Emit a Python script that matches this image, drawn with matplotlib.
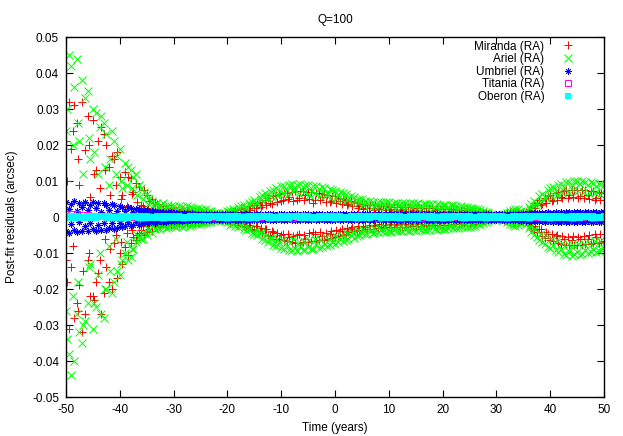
import numpy as np
import matplotlib
matplotlib.use("Agg")
import matplotlib.pyplot as plt

plt.rcParams['font.family'] = ['Liberation Sans', 'DejaVu Sans']
plt.rcParams['font.size'] = 8.5
plt.rcParams['axes.unicode_minus'] = False

# sampling times (years)
t_half = np.arange(-50, 50.01, 0.5)      # outer samples
t_mid = np.arange(-49.75, 50, 1.0)       # inner samples
t_year = np.arange(-50, 50.01, 1.0)      # Titania

# residuals in milli-arcsec (hi = positive side, lo = negative side)
miranda_hi = [
    21, 32, 19, 31, 26, 9, 32, 18.6, 28, 5.6,
    27, 13, 21, 25, 23, 20, 14, 17, 16, 18,
    11, 6, 12.6, 11, 10.7, 7, 9.4, 8.4, 3.3, 7.5,
    6, 4.5, 5, 3.8, 3.5, 2.2, 3.0, 2.6, 1.8, 2.4,
    2.2, 2.0, 1.4, 2.1, 1.8, 1.9, 1.2, 1.7, 1.6, 1.5,
    1.4, 1.0, 1.3, 1.1, 0.8, 0.7, 0.5, 0.4, 0.6, 0.8,
    1.2, 0.9, 1.6, 1.9, 1.5, 2.3, 2.6, 1.8, 3.0, 3.3,
    2.4, 3.8, 4.2, 3.2, 4.8, 5.2, 4.0, 5.8, 6.1, 6.3,
    4.4, 6.6, 6.8, 5.5, 7.0, 7.1, 4.6, 7.2, 7.1, 6.0,
    7.0, 6.9, 3.8, 6.8, 6.6, 5.6, 6.4, 6.2, 4.2, 5.9,
    5.7, 5.4, 4.4, 5.1, 4.8, 3.6, 4.4, 4.1, 3.9, 3.0,
    3.6, 3.4, 2.6, 3.3, 3.2, 3.2, 2.4, 3.1, 3.0, 3.0,
    2.9, 2.2, 2.9, 2.8, 2.8, 2.1, 2.8, 2.7, 2.7, 2.0,
    2.6, 2.6, 2.5, 1.8, 2.5, 2.4, 2.4, 1.9, 2.3, 2.3,
    2.2, 2.2, 1.6, 2.1, 2.1, 2.0, 1.5, 2.0, 1.9, 1.9,
    1.8, 1.4, 1.7, 1.5, 1.3, 1.0, 1.0, 0.7, 0.5, 0.4,
    0.3, 0.4, 0.5, 0.7, 1.0, 1.3, 1.5, 1.4, 1.2, 1.0,
    0.9, 1.3, 2.0, 2.8, 3.2, 4.0, 4.6, 3.6, 5.4, 5.8,
    6.2, 4.8, 6.6, 7.0, 5.6, 7.2, 7.4, 6.0, 7.5, 7.6,
    7.6, 5.8, 7.5, 7.4, 6.2, 7.3, 7.2, 5.4, 7.0, 6.8,
    6.6]
miranda_lo = [
    12, 31, 14, 28, 24, 19, 32, 27, 12, 22,
    22, 18, 15.6, 27, 21, 14, 18, 20, 7.3, 17,
    10, 13, 8.2, 10.5, 7.3, 5.5, 6.5, 4.5, 3.6, 5.0,
    4.2, 3.2, 4.0, 2.6, 2.9, 2.4, 2.0, 2.5, 1.8, 2.1,
    2.0, 1.5, 1.9, 1.8, 1.2, 1.7, 1.6, 1.3, 1.5, 1.3,
    1.2, 1.2, 0.9, 1.0, 0.8, 0.6, 0.5, 0.4, 0.6, 0.9,
    1.1, 1.4, 1.1, 1.8, 2.1, 1.6, 2.5, 2.8, 2.2, 3.2,
    3.5, 2.6, 4.0, 4.4, 3.4, 5.0, 5.4, 4.2, 6.0, 6.2,
    5.0, 6.5, 6.8, 5.6, 7.0, 7.1, 5.0, 7.2, 7.0, 6.0,
    6.9, 6.8, 4.3, 6.7, 6.5, 5.2, 6.3, 6.0, 4.6, 5.8,
    5.6, 5.2, 4.0, 5.0, 4.6, 4.3, 3.4, 4.0, 3.8, 3.6,
    3.5, 2.8, 3.3, 3.2, 3.2, 2.5, 3.1, 3.0, 2.9, 2.3,
    2.9, 2.9, 2.8, 2.2, 2.8, 2.7, 2.7, 2.0, 2.6, 2.6,
    2.5, 2.5, 1.9, 2.4, 2.4, 2.3, 1.8, 2.3, 2.2, 2.2,
    2.1, 1.6, 2.1, 2.0, 2.0, 1.5, 1.9, 1.9, 1.8, 1.6,
    1.7, 1.5, 1.5, 1.2, 1.1, 0.9, 0.8, 0.6, 0.5, 0.3,
    0.4, 0.3, 0.5, 0.8, 1.1, 1.4, 1.6, 1.5, 1.3, 1.1,
    1.0, 1.4, 2.3, 3.0, 3.6, 4.3, 3.4, 5.2, 5.8, 4.6,
    6.4, 6.8, 5.4, 7.2, 7.4, 6.2, 7.7, 7.8, 6.4, 7.9,
    7.8, 6.0, 7.7, 7.6, 6.2, 7.5, 7.3, 5.6, 7.1, 6.9,
    6.8]
miranda_mid_hi = [
    10, 24, 16, 4, 20, 12, 8, 13, 6, 9,
    5, 3, 6.5, 4.2, 3, 2.5, 2.2, 1.8, 1.2, 1.5,
    1.2, 1.4, 0.9, 1.0, 0.8, 0.6, 0.5, 0.3, 0.4, 0.6,
    0.8, 1.1, 1.4, 1.6, 2.0, 2.4, 2.8, 3.4, 3.6, 4.2,
    4.6, 5.0, 4.4, 5.2, 4.8, 5.0, 4.6, 4.8, 4.2, 4.4,
    3.8, 3.6, 3.2, 3.0, 2.6, 2.2, 2.4, 2.0, 2.2, 1.9,
    2.0, 1.8, 2.0, 1.7, 1.8, 1.6, 1.7, 1.5, 1.6, 1.4,
    1.5, 1.4, 1.3, 1.2, 1.2, 1.1, 0.9, 0.8, 0.6, 0.4,
    0.3, 0.4, 0.8, 1.0, 0.9, 0.7, 1.6, 2.4, 3.2, 3.8,
    4.4, 4.8, 5.2, 5.4, 5.6, 5.4, 5.2, 5.0, 4.8, 4.6]
miranda_mid_lo = [
    18, 8, 26, 15, 10, 23, 12, 6, 9, 5,
    7, 4.4, 3.6, 5, 2.6, 2.0, 1.8, 2.2, 1.5, 1.3,
    1.4, 1.1, 1.2, 0.9, 0.8, 0.7, 0.4, 0.3, 0.5, 0.7,
    0.9, 1.2, 1.6, 1.8, 2.2, 2.6, 3.0, 3.2, 3.8, 4.4,
    4.8, 4.6, 5.2, 4.8, 5.0, 4.4, 4.6, 4.2, 4.4, 4.0,
    3.6, 3.4, 3.0, 2.8, 2.6, 2.4, 2.1, 2.3, 2.0, 2.1,
    1.9, 2.0, 1.7, 1.9, 1.6, 1.8, 1.5, 1.7, 1.5, 1.6,
    1.4, 1.5, 1.3, 1.2, 1.1, 1.2, 1.0, 0.8, 0.5, 0.3,
    0.4, 0.5, 0.7, 1.1, 1.0, 0.8, 1.8, 2.6, 3.4, 4.2,
    4.6, 5.0, 5.4, 5.6, 5.4, 5.6, 5.2, 5.0, 4.8, 4.6]

ariel_hi = [
    24, 45, 42, 36, 44, 21, 38, 33, 35, 16,
    30, 29, 12, 28, 26, 23, 9, 24, 21, 17,
    19, 8, 15, 14, 13, 11, 12, 9, 8, 7,
    6.5, 5, 4.5, 3.5, 4, 3.2, 3.8, 2.6, 3.4, 3,
    3, 2.4, 3.1, 2.8, 2.2, 3, 2.7, 2.5, 2.2, 2.6,
    2.3, 1.9, 2.1, 1.7, 1.6, 1.2, 1.0, 0.7, 0.8, 1.1,
    1.6, 2.0, 2.3, 1.8, 2.7, 3.0, 3.3, 2.6, 4.0, 4.3,
    4.8, 3.8, 5.6, 6.0, 6.6, 5.2, 7.3, 7.6, 8.1, 6.5,
    8.6, 8.7, 7.4, 8.9, 9.1, 7.8, 9.0, 9.1, 8.2, 9.0,
    8.8, 7.2, 8.7, 8.5, 7.9, 8.3, 8.1, 6.8, 7.9, 7.6,
    7.3, 6.2, 7.0, 6.6, 6.3, 5.4, 5.8, 5.6, 4.6, 5.1,
    4.9, 4.5, 4.1, 4.4, 4.3, 3.4, 4.2, 4.1, 3.9, 4.2,
    4.1, 3.3, 4.0, 4.0, 3.6, 3.9, 4.0, 3.2, 3.9, 3.8,
    3.7, 3.8, 3.0, 3.6, 3.7, 3.5, 3.6, 2.8, 3.5, 3.4,
    3.4, 3.3, 2.7, 3.2, 3.2, 3.1, 2.6, 3.0, 2.9, 2.7,
    2.6, 2.5, 2.3, 2.1, 1.9, 1.6, 1.4, 1.0, 0.7, 0.5,
    0.4, 0.5, 0.6, 0.8, 1.2, 1.7, 2.0, 2.2, 2.1, 1.8,
    1.2, 1.6, 2.7, 3.6, 4.5, 3.9, 5.8, 6.4, 5.6, 7.4,
    8.0, 8.3, 7.2, 8.9, 9.3, 8.4, 9.6, 9.8, 8.9, 10.0,
    10.1, 9.3, 9.9, 9.8, 8.8, 9.7, 9.5, 8.6, 9.3, 9.2,
    9.0]
ariel_lo = [
    26, 38, 44, 40, 27, 32, 35, 29, 24, 13,
    31, 25, 16, 27, 28, 20, 8, 21, 18, 15,
    16, 12, 10, 12, 11, 9, 7, 5.5, 6, 4.5,
    5, 3.6, 4.5, 3.4, 3.0, 3.2, 2.6, 3.0, 2.8, 2.4,
    2.6, 2.8, 2.2, 2.7, 2.5, 2.0, 2.4, 2.2, 1.8, 2.0,
    1.9, 1.7, 1.8, 1.4, 1.3, 1.0, 0.8, 0.6, 0.9, 1.2,
    1.5, 2.1, 1.9, 2.5, 2.8, 2.4, 3.4, 3.7, 3.2, 4.4,
    4.6, 5.1, 4.2, 6.1, 6.4, 7.0, 5.8, 7.7, 8.0, 7.0,
    8.5, 8.8, 8.0, 9.2, 9.3, 8.6, 9.4, 8.1, 9.3, 9.1,
    8.3, 9.0, 8.8, 7.6, 8.6, 8.4, 7.4, 8.0, 7.7, 7.0,
    7.4, 7.0, 6.0, 6.8, 6.4, 6.0, 5.0, 5.7, 5.3, 5.0,
    4.4, 4.8, 4.6, 3.8, 4.4, 4.3, 4.2, 3.6, 4.2, 4.1,
    4.0, 4.1, 3.5, 4.0, 3.9, 4.0, 3.4, 3.9, 3.8, 3.7,
    3.8, 3.1, 3.7, 3.6, 3.5, 3.6, 2.9, 3.4, 3.5, 3.3,
    3.2, 3.3, 3.1, 2.6, 3.1, 3.0, 3.0, 2.6, 2.8, 2.8,
    2.7, 2.4, 2.4, 2.0, 2.0, 1.7, 1.3, 1.1, 0.8, 0.6,
    0.5, 0.4, 0.7, 0.9, 1.4, 1.9, 2.3, 2.4, 2.2, 1.6,
    1.4, 1.9, 3.0, 4.2, 5.0, 5.6, 6.4, 7.0, 7.6, 8.2,
    8.6, 7.8, 9.3, 9.7, 8.8, 10.3, 10.6, 9.4, 10.8, 10.4,
    9.6, 10.5, 10.2, 9.2, 10.0, 9.8, 8.9, 9.6, 9.4, 9.0,
    8.7]
ariel_mid_hi = [
    30, 20, 26, 12, 22, 18, 25, 14, 16, 12,
    10, 9, 8, 6, 5, 3.5, 3, 2.8, 2.2, 2.0,
    2.0, 1.8, 2.0, 1.6, 1.5, 1.2, 1.0, 0.8, 0.6, 1.0,
    1.3, 1.8, 2.2, 2.6, 3.2, 3.8, 4.6, 5.2, 5.6, 6.2,
    6.6, 6.0, 7.2, 6.4, 7.0, 6.2, 6.6, 5.8, 6.0, 5.4,
    5.4, 4.8, 4.6, 4.0, 3.8, 3.2, 3.1, 2.9, 3.0, 2.7,
    2.9, 2.6, 2.8, 2.5, 2.7, 2.4, 2.6, 2.3, 2.5, 2.2,
    2.3, 2.1, 2.2, 1.9, 2.0, 1.7, 1.5, 1.2, 1.0, 0.6,
    0.4, 0.6, 1.2, 1.5, 1.3, 1.0, 2.2, 3.2, 4.2, 5.2,
    5.6, 6.2, 6.8, 7.0, 7.4, 7.2, 7.0, 6.8, 6.6, 6.4]
ariel_mid_lo = [
    34, 22, 18, 30, 14, 24, 10, 20, 15, 6,
    13, 7, 9, 5, 6, 3, 2.4, 2.2, 2.0, 1.6,
    1.8, 1.6, 1.5, 1.8, 1.2, 1.3, 0.9, 0.7, 0.7, 0.9,
    1.2, 1.6, 2.0, 2.6, 3.0, 3.6, 4.4, 5.0, 5.8, 6.0,
    6.4, 6.8, 6.2, 7.0, 6.6, 6.4, 6.0, 6.2, 5.6, 5.8,
    5.2, 5.0, 4.4, 4.2, 3.6, 3.4, 3.0, 3.1, 2.8, 2.9,
    2.7, 2.8, 2.6, 2.7, 2.5, 2.6, 2.4, 2.5, 2.3, 2.4,
    2.2, 2.2, 2.0, 2.1, 1.8, 1.8, 1.4, 1.3, 0.9, 0.5,
    0.5, 0.7, 1.0, 1.6, 1.4, 1.1, 2.4, 3.4, 4.6, 5.0,
    6.0, 6.4, 7.2, 7.4, 7.8, 7.6, 7.4, 7.0, 6.8, 6.6]

umbriel_hi = [
    4.3, 2.2, 3.6, 4.4, 1.6, 3.9, 2.8, 4.3, 1.9, 3.4,
    4.1, 2.5, 3.8, 1.5, 3.9, 3.2, 2.0, 3.6, 3.3, 1.6,
    3.1, 2.9, 1.7, 2.7, 2.5, 1.4, 2.3, 2.2, 1.5, 2.0,
    1.9, 1.3, 1.8, 1.7, 1.2, 1.5, 1.5, 1.1, 1.4, 1.3,
    1.0, 1.2, 1.2, 0.9, 1.1, 1.0, 0.8, 1.0, 0.9, 0.8,
    0.9, 0.8, 0.7, 0.9, 0.8, 0.7, 0.8, 0.7, 0.8, 0.7,
    0.8, 0.7, 0.8, 0.7, 0.6, 0.8, 0.7, 0.8, 0.7, 0.6,
    0.7, 0.8, 0.7, 0.6, 0.8, 0.7, 0.7, 0.8, 0.6, 0.7,
    0.8, 0.7, 0.6, 0.8, 0.7, 0.7, 0.8, 0.6, 0.7, 0.8,
    0.7, 0.6, 0.8, 0.7, 0.7, 0.8, 0.6, 0.7, 0.8, 0.7,
    0.6, 0.8, 0.7, 0.7, 0.8, 0.6, 0.7, 0.8, 0.7, 0.6,
    0.8, 0.7, 0.7, 0.8, 0.6, 0.7, 0.8, 0.7, 0.6, 0.8,
    0.7, 0.7, 0.8, 0.6, 0.7, 0.8, 0.7, 0.6, 0.8, 0.7,
    0.7, 0.8, 0.6, 0.7, 0.8, 0.7, 0.6, 0.8, 0.7, 0.7,
    0.8, 0.6, 0.7, 0.8, 0.7, 0.6, 0.8, 0.7, 0.7, 0.8,
    0.6, 0.7, 0.8, 0.7, 0.6, 0.8, 0.7, 0.7, 0.8, 0.6,
    0.7, 0.8, 0.7, 0.6, 0.8, 0.7, 0.8, 0.9, 0.8, 0.9,
    1.0, 0.9, 1.1, 1.0, 1.2, 1.1, 1.0, 1.2, 1.1, 1.3,
    1.2, 1.1, 1.3, 1.2, 1.4, 1.2, 1.3, 1.4, 1.2, 1.3,
    1.4, 1.3, 1.2, 1.4, 1.3, 1.2, 1.4, 1.3, 1.2, 1.3,
    1.3]
umbriel_lo = [
    3.8, 4.4, 2.0, 3.5, 4.2, 1.5, 3.9, 2.6, 4.0, 1.8,
    3.4, 4.0, 2.3, 3.6, 1.6, 3.5, 3.0, 1.8, 3.3, 3.0,
    1.7, 2.8, 2.6, 1.5, 2.4, 2.3, 1.3, 2.1, 2.0, 1.4,
    1.8, 1.7, 1.2, 1.6, 1.5, 1.1, 1.4, 1.3, 1.0, 1.2,
    1.1, 0.9, 1.1, 1.0, 0.8, 1.0, 0.9, 0.8, 0.9, 0.8,
    0.8, 0.7, 0.9, 0.8, 0.7, 0.8, 0.6, 0.8, 0.7, 0.7,
    0.7, 0.8, 0.6, 0.7, 0.8, 0.7, 0.6, 0.8, 0.7, 0.7,
    0.8, 0.6, 0.7, 0.8, 0.7, 0.6, 0.8, 0.7, 0.8, 0.6,
    0.7, 0.8, 0.7, 0.6, 0.8, 0.7, 0.7, 0.8, 0.6, 0.7,
    0.8, 0.7, 0.6, 0.8, 0.7, 0.6, 0.8, 0.7, 0.7, 0.8,
    0.7, 0.6, 0.8, 0.7, 0.6, 0.8, 0.7, 0.7, 0.6, 0.8,
    0.7, 0.8, 0.6, 0.7, 0.8, 0.7, 0.6, 0.8, 0.7, 0.7,
    0.6, 0.8, 0.7, 0.7, 0.8, 0.6, 0.7, 0.8, 0.7, 0.6,
    0.8, 0.7, 0.7, 0.6, 0.8, 0.7, 0.8, 0.6, 0.7, 0.8,
    0.7, 0.7, 0.8, 0.6, 0.7, 0.8, 0.7, 0.6, 0.8, 0.7,
    0.7, 0.8, 0.6, 0.7, 0.8, 0.7, 0.6, 0.8, 0.7, 0.7,
    0.8, 0.6, 0.7, 0.8, 0.7, 0.8, 0.9, 0.8, 0.9, 1.0,
    0.9, 1.1, 1.0, 1.2, 1.1, 1.0, 1.2, 1.1, 1.3, 1.2,
    1.1, 1.3, 1.2, 1.4, 1.3, 1.2, 1.4, 1.3, 1.2, 1.4,
    1.3, 1.2, 1.4, 1.3, 1.2, 1.4, 1.3, 1.2, 1.3, 1.4,
    1.2]

titania = [
    0.8, 0.7, 0.7, 0.6, 0.5, 0.4, 0.3, 0.2, -0.1, 0.2,
    -0.2, 0.1, -0.1, 0.2, -0.2, 0.1, -0.1, 0.2, -0.2, 0.1,
    -0.1, 0.2, -0.2, 0.1, -0.1, 0.2, -0.2, 0.1, -0.1, 0.2,
    -0.2, 0.1, -0.1, 0.2, -0.2, 0.1, -0.1, 0.2, -0.2, 0.1,
    -0.1, 0.2, -0.2, 0.1, -0.1, 0.2, -0.2, 0.1, -0.1, 0.2,
    -0.2, 0.1, -0.1, 0.2, -0.2, 0.1, -0.1, 0.2, -0.2, 0.1,
    -0.1, 0.2, -0.2, 0.1, -0.1, 0.2, -0.2, 0.1, -0.1, 0.2,
    -0.2, 0.1, -0.1, 0.2, -0.2, 0.1, -0.1, 0.2, -0.2, 0.1,
    -0.1, 0.2, -0.2, 0.1, -0.1, 0.2, -0.2, 0.1, -0.1, 0.2,
    -0.2, 0.1, -0.1, 0.2, -0.2, 0.1, -0.1, 0.2, -0.2, 0.1,
    -0.1]

oberon = [
    0.3, -0.3, 0.2, -0.2, 0.3, -0.3, 0.1, -0.3, 0.3, -0.2,
    0.2, -0.3, 0.3, -0.1, 0.2, -0.3, 0.3, -0.2, 0.1, -0.3,
    0.3, -0.2, 0.2, -0.3, 0.3, -0.1, 0.2, -0.3, 0.3, -0.2,
    0.2, -0.3, 0.1, -0.2, 0.3, -0.3, 0.2, -0.2, 0.3, -0.3,
    0.3, -0.2, 0.2, -0.3, 0.1, -0.3, 0.3, -0.2, 0.2, -0.3,
    0.2, -0.3, 0.3, -0.2, 0.2, -0.1, 0.3, -0.3, 0.2, -0.2,
    0.3, -0.3, 0.2, -0.2, 0.3, -0.3, 0.1, -0.3, 0.3, -0.2,
    0.2, -0.3, 0.3, -0.1, 0.2, -0.3, 0.3, -0.2, 0.1, -0.3,
    0.3, -0.2, 0.2, -0.3, 0.3, -0.1, 0.2, -0.3, 0.3, -0.2,
    0.2, -0.3, 0.1, -0.2, 0.3, -0.3, 0.2, -0.2, 0.3, -0.3,
    0.3, -0.2, 0.2, -0.3, 0.1, -0.3, 0.3, -0.2, 0.2, -0.3,
    0.2, -0.3, 0.3, -0.2, 0.2, -0.1, 0.3, -0.3, 0.2, -0.2,
    0.3, -0.3, 0.2, -0.2, 0.3, -0.3, 0.1, -0.3, 0.3, -0.2,
    0.2, -0.3, 0.3, -0.1, 0.2, -0.3, 0.3, -0.2, 0.1, -0.3,
    0.3, -0.2, 0.2, -0.3, 0.3, -0.1, 0.2, -0.3, 0.3, -0.2,
    0.2, -0.3, 0.1, -0.2, 0.3, -0.3, 0.2, -0.2, 0.3, -0.3,
    0.3, -0.2, 0.2, -0.3, 0.1, -0.3, 0.3, -0.2, 0.2, -0.3,
    0.2, -0.3, 0.3, -0.2, 0.2, -0.1, 0.3, -0.3, 0.2, -0.2,
    0.3, -0.3, 0.2, -0.2, 0.3, -0.3, 0.1, -0.3, 0.3, -0.2,
    0.2, -0.3, 0.3, -0.1, 0.2, -0.3, 0.3, -0.2, 0.1, -0.3,
    0.3]

labels = ['Miranda (RA)', 'Ariel (RA)', 'Umbriel (RA)', 'Titania (RA)', 'Oberon (RA)']
colors = ['#ff0000', '#00ff00', '#0000ff', '#ff00ff', '#00ffff']

mas = 1e-3

fig = plt.figure(figsize=(6.23, 4.36), dpi=100)
ax = fig.add_axes([66/623, 1-397/436, 538/623, 360/436])

def gather(parts):
    # parts: list of (times, values, sign)
    x = np.concatenate([p[0] for p in parts])
    y = np.concatenate([p[2] * np.array(p[1]) * mas for p in parts])
    return x, y

x, y = gather([(t_half, miranda_hi, 1), (t_half, miranda_lo, -1),
               (t_mid, miranda_mid_hi, 1), (t_mid, miranda_mid_lo, -1)])
ax.plot(x, y, ls='none', marker='+', ms=6, mew=0.7, color=colors[0], label=labels[0])
x, y = gather([(t_half, ariel_hi, 1), (t_half, ariel_lo, -1),
               (t_mid, ariel_mid_hi, 1), (t_mid, ariel_mid_lo, -1)])
ax.plot(x, y, ls='none', marker='x', ms=5.5, mew=0.7, color=colors[1], label=labels[1])
x, y = gather([(t_half, umbriel_hi, 1), (t_half, umbriel_lo, -1)])
ax.plot(x, y, ls='none', marker=(8, 2, 0), ms=4.5, mew=0.6, color=colors[2], label=labels[2])
ax.plot(t_year, np.array(titania) * mas, ls='none', marker='s', ms=4, mew=0.8,
        mfc='none', mec=colors[3], label=labels[3])
ax.plot(t_half, np.array(oberon) * mas, ls='none', marker='s', ms=4.2, mew=0,
        color=colors[4], label=labels[4])

ax.set_xlim(-50, 50)
ax.set_ylim(-0.05, 0.05)
ax.set_xticks(np.arange(-50, 51, 10))
ax.set_yticks(np.round(np.arange(-0.05, 0.051, 0.01), 2))
ax.yaxis.set_major_formatter(matplotlib.ticker.FuncFormatter(lambda v, p: '%g' % round(v, 2)))
ax.tick_params(direction='in', length=5, width=0.8, top=True, right=True, pad=5, labelsize=8.5)
for s in ax.spines.values():
    s.set_linewidth(1.0)

ax.set_title('Q=100', fontsize=8.5, pad=10)
ax.set_xlabel('Time (years)', labelpad=4)
ax.set_ylabel('Post-fit residuals (arcsec)', labelpad=10)

ax.legend(loc='upper right', bbox_to_anchor=(0.955, 0.99), frameon=False, markerfirst=False,
          borderpad=0, borderaxespad=0, handlelength=2.0, handletextpad=1.0,
          labelspacing=0.05, fontsize=8.5)

fig.savefig('out.png', dpi=100)
